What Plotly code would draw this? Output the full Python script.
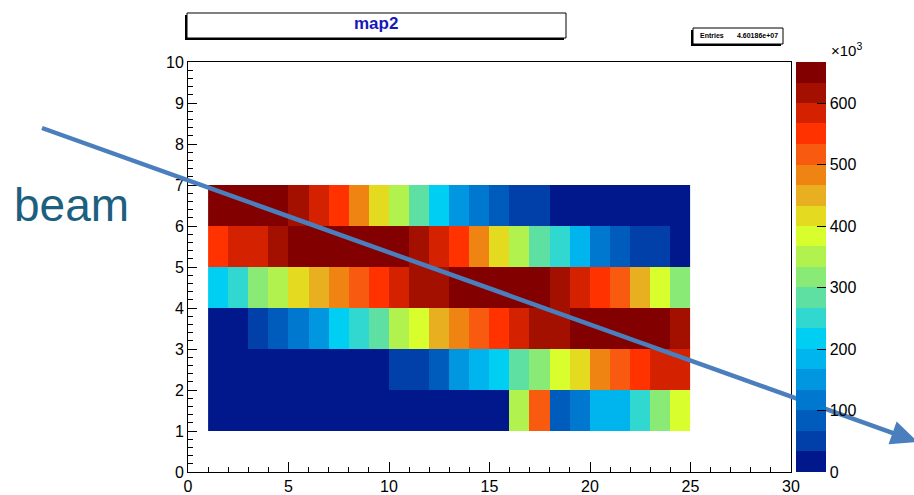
import plotly.graph_objects as go

# ---------------- data (values in units of 10^3 entries) ----------------
x_centers = [i + 0.5 for i in range(1, 25)]          # bins 1..25
y_centers = [1.5, 2.5, 3.5, 4.5, 5.5, 6.5]            # bins 1..7

row_y1 = [6, 6, 6, 6, 6, 6, 6, 6, 6, 6, 6, 6, 6, 6, 6,
          350, 517, 83, 117, 183, 183, 250, 317, 383]
row_y2 = [12, 12, 12, 12, 12, 12, 12, 12, 12,
          50, 50, 83, 150, 183, 217, 283, 317, 383, 417, 483, 517, 550, 583, 583]
row_y3 = [15, 15, 50, 83, 117, 150, 217, 250, 283, 350, 383, 450,
          483, 517, 550, 583, 617, 617, 650, 650, 650, 650, 650, 617]
row_y4 = [217, 250, 317, 350, 417, 450, 483, 517, 550, 583, 617, 617,
          650, 650, 650, 650, 650, 617, 583, 550, 517, 450, 383, 317]
row_y5 = [550, 583, 583, 617, 650, 650, 650, 650, 650, 650, 617, 583,
          550, 483, 417, 350, 283, 250, 183, 117, 83, 50, 50, 15]
row_y6 = [650, 650, 650, 650, 617, 583, 550, 483, 417, 350, 283, 217,
          150, 117, 83, 50, 50, 15, 15, 15, 15, 15, 15, 15]

z_max = 666.67
cbar_ticks = [0, 100, 200, 300, 400, 500, 600]
entries_text = "4.60186e+07"
title_text = "map2"

palette = ["#00188C", "#0040A8", "#005CBC", "#0078D0", "#0096E0",
           "#00B4EE", "#00CEF2", "#30D8D0", "#5EE0A2", "#8AEA76",
           "#B2F24E", "#D8FE2E", "#E4DA20", "#E8B020", "#F08412",
           "#F85A10", "#FF3200", "#D42200", "#A41000", "#820000"]

# ---------------- figure ----------------
W, H = 914, 495
L, R, T, B = 188, 123, 62, 23
PW, PH = W - L - R, H - T - B


def px(xp):
    return (xp - L) / PW


def py(yp):
    return (H - B - yp) / PH


n = len(palette)
colorscale = []
for i, c in enumerate(palette):
    colorscale.append([i / n, c])
    colorscale.append([(i + 1) / n, c])

font_family = "Liberation Sans, Arial, sans-serif"

fig = go.Figure()
fig.add_trace(go.Heatmap(
    x=x_centers, y=y_centers,
    z=[row_y1, row_y2, row_y3, row_y4, row_y5, row_y6],
    zmin=0, zmax=z_max, colorscale=colorscale,
    colorbar=dict(
        x=px(796), xanchor="left", xpad=0,
        y=0, yanchor="bottom", ypad=0, len=1, lenmode="fraction",
        thickness=30, outlinewidth=0,
        tickvals=cbar_ticks, ticks="inside", ticklen=9, tickcolor="black",
        tickfont=dict(family=font_family, size=16, color="black"),
    ),
    hoverinfo="skip",
))

axis_common = dict(
    showgrid=False, zeroline=False, showline=True, linecolor="black",
    linewidth=1, mirror=True, ticks="inside", tickcolor="black",
    automargin=False,
    tickfont=dict(family=font_family, size=16, color="black"),
)
fig.update_xaxes(range=[0, 30], tick0=0, dtick=5, ticklen=10,
                 minor=dict(dtick=1, ticks="inside", ticklen=5, tickcolor="black"),
                 **axis_common)
fig.update_yaxes(range=[0, 10], tick0=0, dtick=1, ticklen=9,
                 minor=dict(dtick=0.2, ticks="inside", ticklen=5, tickcolor="black"),
                 **axis_common)

shapes = []
# title box with shadow
shapes.append(dict(type="rect", xref="paper", yref="paper",
                   x0=px(185), x1=px(564), y0=py(40), y1=py(15),
                   fillcolor="black", line=dict(width=0), layer="above"))
shapes.append(dict(type="rect", xref="paper", yref="paper",
                   x0=px(187), x1=px(566), y0=py(38), y1=py(13),
                   fillcolor="white", line=dict(color="black", width=1), layer="above"))
# stats box with shadow
shapes.append(dict(type="rect", xref="paper", yref="paper",
                   x0=px(691), x1=px(781), y0=py(46), y1=py(30),
                   fillcolor="black", line=dict(width=0), layer="above"))
shapes.append(dict(type="rect", xref="paper", yref="paper",
                   x0=px(693), x1=px(783), y0=py(44), y1=py(28),
                   fillcolor="white", line=dict(color="black", width=1), layer="above"))

# beam arrow (line + triangular head), in page pixels
arrow_color = "#4A7EBD"
tail = (42.0, 128.0)
tip = (918.0, 442.0)
dx, dy = tip[0] - tail[0], tip[1] - tail[1]
ln = (dx * dx + dy * dy) ** 0.5
ux, uy = dx / ln, dy / ln
head_len, head_half = 27.0, 12.0
bx, by = tip[0] - head_len * ux, tip[1] - head_len * uy
c1 = (bx - head_half * uy, by + head_half * ux)
c2 = (bx + head_half * uy, by - head_half * ux)
shapes.append(dict(type="line", xref="paper", yref="paper",
                   x0=px(tail[0]), y0=py(tail[1]), x1=px(bx + 2 * ux), y1=py(by + 2 * uy),
                   line=dict(color=arrow_color, width=4.5), layer="above"))
shapes.append(dict(type="path", xref="paper", yref="paper",
                   path="M {:.5f},{:.5f} L {:.5f},{:.5f} L {:.5f},{:.5f} Z".format(
                       px(tip[0]), py(tip[1]), px(c1[0]), py(c1[1]), px(c2[0]), py(c2[1])),
                   fillcolor=arrow_color, line=dict(width=0), layer="above"))

annotations = [
    dict(text="<b>" + title_text + "</b>", xref="paper", yref="paper",
         x=px(376), y=py(24), xanchor="center", yanchor="middle", showarrow=False,
         font=dict(family=font_family, size=17, color="#1818B8")),
    dict(text="<b>Entries</b>", xref="paper", yref="paper",
         x=px(698), y=py(36), xanchor="left", yanchor="middle", showarrow=False,
         font=dict(family=font_family, size=7, color="black")),
    dict(text="<b>" + entries_text + "</b>", xref="paper", yref="paper",
         x=px(780), y=py(36), xanchor="right", yanchor="middle", showarrow=False,
         font=dict(family=font_family, size=7, color="black")),
    dict(text="×10<sup>3</sup>", xref="paper", yref="paper",
         x=px(829), y=py(50), xanchor="left", yanchor="middle", showarrow=False,
         font=dict(family=font_family, size=15, color="black")),
    dict(text="beam", xref="paper", yref="paper",
         x=px(12), y=py(205), xanchor="left", yanchor="middle", showarrow=False,
         font=dict(family=font_family, size=46, color="#1D5F80")),
]

fig.update_layout(
    width=W, height=H,
    margin=dict(l=L, r=R, t=T, b=B, pad=0, autoexpand=False),
    paper_bgcolor="white", plot_bgcolor="white",
    shapes=shapes, annotations=annotations,
    showlegend=False,
)

fig.write_html("out.html", config={"displayModeBar": False},
               post_script="document.body.style.margin='0';document.body.style.overflow='hidden';")
